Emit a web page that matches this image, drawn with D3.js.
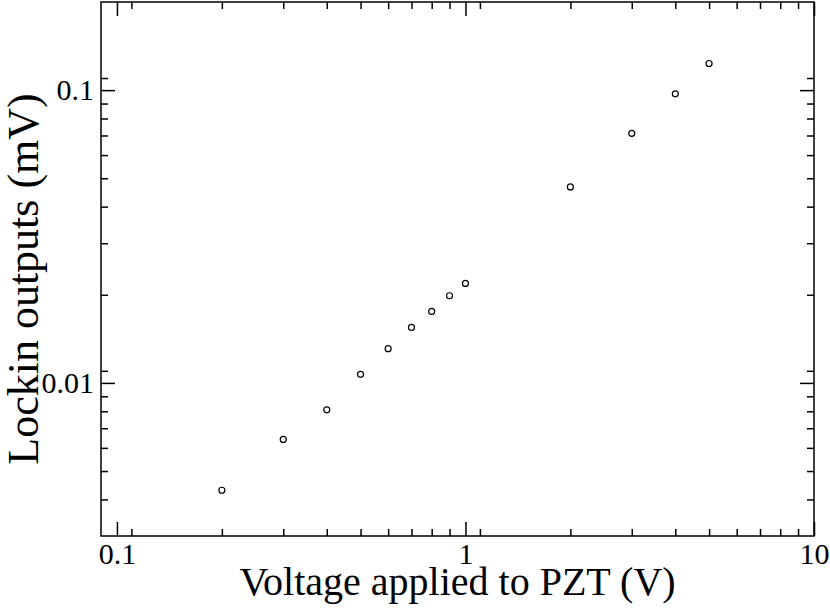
<!DOCTYPE html>
<html>
<head>
<meta charset="utf-8">
<script src="https://cdnjs.cloudflare.com/ajax/libs/d3/7.8.5/d3.min.js"></script>
<style>
  html, body { margin: 0; padding: 0; background: #fff; }
  svg { display: block; }
</style>
</head>
<body>
<svg id="chart" width="830" height="610"></svg>
<script>
// data
const voltage = [0.2, 0.3, 0.4, 0.5, 0.6, 0.7, 0.8, 0.9, 1, 2, 3, 4, 5];
const lockin  = [0.0043, 0.00641, 0.00809, 0.0107, 0.01309, 0.01547, 0.01754, 0.01985, 0.02186, 0.0467, 0.07118, 0.09714, 0.1233];

const xDomain = [0.09, 10];
const yDomain = [0.003, 0.2];
const xMajor = [0.1, 1, 10];
const yMajor = [0.01, 0.1];
const decades = [0.001, 0.01, 0.1, 1, 10];
const minorMult = [1.1, 2, 3, 4, 5, 6, 7, 8, 9];

const serif = '"Liberation Serif", "Times New Roman", serif';

const svg = d3.select("#chart"),
      width = +svg.attr("width"),
      height = +svg.attr("height"),
      margin = {top: 2, right: 16, bottom: 74, left: 101},
      w = width - margin.left - margin.right,
      h = height - margin.top - margin.bottom;

const g = svg.append("g").attr("transform", `translate(${margin.left},${margin.top})`);

const x = d3.scaleLog().domain(xDomain).range([0, w]);
const y = d3.scaleLog().domain(yDomain).range([h, 0]);

function minors(domain) {
  const out = [];
  decades.forEach(d => minorMult.forEach(m => {
    const v = d * m;
    if (v > domain[0] * 1.0001 && v < domain[1] * 0.9999) out.push(v);
  }));
  return out;
}
const xMinor = minors(xDomain), yMinor = minors(yDomain);
const fmt = d => d >= 1 ? d3.format("d")(d) : String(d);

function styleAxis(sel) {
  sel.select(".domain").remove();
  sel.selectAll("line").attr("stroke", "#000").attr("stroke-width", 1.5);
  sel.selectAll("text")
    .style("font-family", serif)
    .style("font-size", "30px")
    .attr("fill", "#000");
}

// bottom / left with labels
g.append("g").attr("transform", `translate(0,${h})`)
  .call(d3.axisBottom(x).tickValues(xMajor).tickFormat(fmt).tickSizeInner(-14).tickSizeOuter(0).tickPadding(7))
  .call(styleAxis);
g.append("g").attr("transform", `translate(0,${h})`)
  .call(d3.axisBottom(x).tickValues(xMinor).tickFormat("").tickSizeInner(-7).tickSizeOuter(0))
  .call(styleAxis);
g.append("g")
  .call(d3.axisLeft(y).tickValues(yMajor).tickFormat(fmt).tickSizeInner(-14).tickSizeOuter(0).tickPadding(7))
  .call(styleAxis);
g.append("g")
  .call(d3.axisLeft(y).tickValues(yMinor).tickFormat("").tickSizeInner(-7).tickSizeOuter(0))
  .call(styleAxis);

// top / right mirrored ticks
g.append("g")
  .call(d3.axisTop(x).tickValues(xMajor).tickFormat("").tickSizeInner(-14).tickSizeOuter(0))
  .call(styleAxis);
g.append("g")
  .call(d3.axisTop(x).tickValues(xMinor).tickFormat("").tickSizeInner(-7).tickSizeOuter(0))
  .call(styleAxis);
g.append("g").attr("transform", `translate(${w},0)`)
  .call(d3.axisRight(y).tickValues(yMajor).tickFormat("").tickSizeInner(-14).tickSizeOuter(0))
  .call(styleAxis);
g.append("g").attr("transform", `translate(${w},0)`)
  .call(d3.axisRight(y).tickValues(yMinor).tickFormat("").tickSizeInner(-7).tickSizeOuter(0))
  .call(styleAxis);

// frame
g.append("rect").attr("width", w).attr("height", h)
  .attr("fill", "none").attr("stroke", "#000").attr("stroke-width", 1.5);

// points
g.selectAll("circle.pt")
  .data(voltage.map((v, i) => [v, lockin[i]]))
  .enter().append("circle")
    .attr("class", "pt")
    .attr("cx", d => x(d[0]))
    .attr("cy", d => y(d[1]))
    .attr("r", 3)
    .attr("fill", "none")
    .attr("stroke", "#000")
    .attr("stroke-width", 1.2);

// axis titles
svg.append("text")
  .attr("x", 457.5).attr("y", 595)
  .attr("text-anchor", "middle")
  .style("font-family", serif)
  .style("font-size", "40px")
  .text("Voltage applied to PZT (V)");

svg.append("text")
  .attr("transform", "translate(38,279) rotate(-90)")
  .attr("text-anchor", "middle")
  .style("font-family", serif)
  .style("font-size", "44px")
  .text("Lockin outputs (mV)");
</script>
</body>
</html>
